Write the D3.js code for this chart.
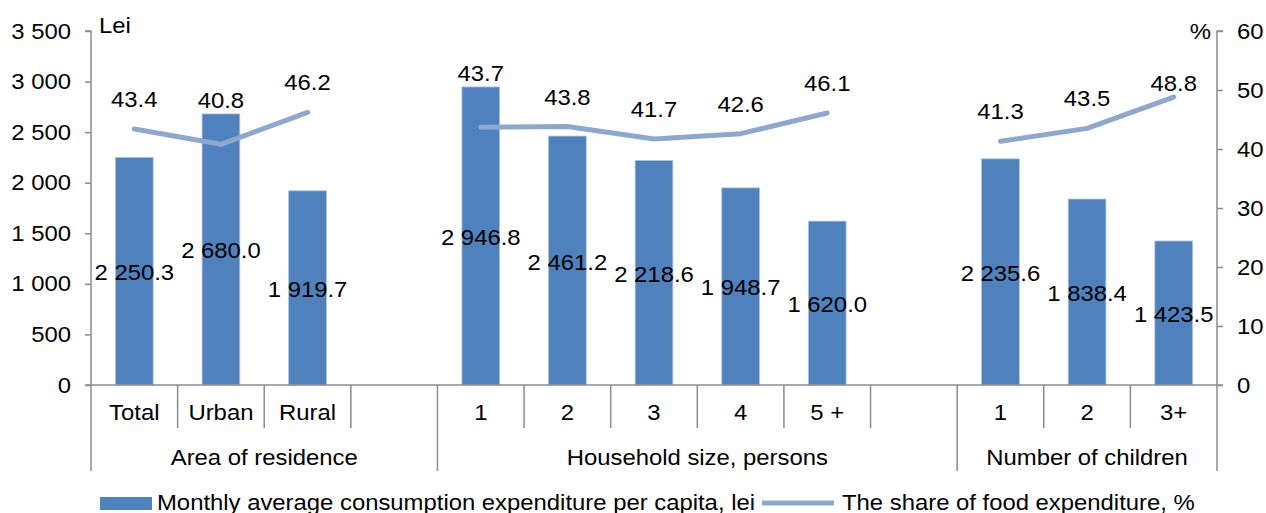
<!DOCTYPE html>
<html><head><meta charset="utf-8">
<script src="https://cdn.jsdelivr.net/npm/d3@7"></script>
<style>
html,body{margin:0;padding:0;background:#fff;}
svg text{font-family:"Liberation Sans",Arial,sans-serif;fill:#000;}
</style></head>
<body><svg id="c" width="1266" height="513"></svg>
<script>
const categories = ["Total","Urban","Rural","","1","2","3","4","5 +","","1","2","3+"];
const expenditure = [2250.3,2680.0,1919.7,null,2946.8,2461.2,2218.6,1948.7,1620.0,null,2235.6,1838.4,1423.5];
const foodShare = [43.4,40.8,46.2,null,43.7,43.8,41.7,42.6,46.1,null,41.3,43.5,48.8];
const groupNames = ["Area of residence","Household size, persons","Number of children"];
const groupSpans = [4,6,3];
const leftTicks = [0,500,1000,1500,2000,2500,3000,3500];
const rightTicks = [0,10,20,30,40,50,60];
const seriesNames = ["Monthly average consumption expenditure per capita, lei","The share of food expenditure, %"];

const svg = d3.select("#c");
const L = 91, R = 1217, T = 31, B = 385;
const fs = 22, KX = 1.085;
const axisCol = "#8c8c8c";
const barCol = "#4F81BD", lineCol = "#8EA7CF";

const x = d3.scaleBand().domain(d3.range(categories.length)).range([L,R]).padding(0);
const yL = d3.scaleLinear().domain([0,3500]).range([B,T]);
const yR = d3.scaleLinear().domain([0,60]).range([B,T]);
const fmt = v => d3.format(",.1f")(v).replace(/,/g," ");
const fmtTick = v => d3.format(",")(v).replace(/,/g," ");
const cx = i => x(i)+x.bandwidth()/2;

// bars
const bw = x.bandwidth()*0.435;
const barData = expenditure.map((v,i)=>({v,i})).filter(d=>d.v!=null);
svg.append("g").selectAll("rect").data(barData)
 .join("rect")
 .attr("x",d=>cx(d.i)-bw/2).attr("width",bw)
 .attr("y",d=>yL(d.v)).attr("height",d=>yL(0)-yL(d.v))
 .attr("fill",barCol).attr("stroke","#a9c0e0").attr("stroke-width",0.8);

// left axis
const gl = svg.append("g").attr("transform",`translate(${L},0)`)
 .call(d3.axisLeft(yL).tickValues(leftTicks).tickSize(6).tickPadding(14).tickFormat(fmtTick));
gl.select(".domain").attr("stroke",axisCol).attr("stroke-width",1.5).attr("d",`M-6,${T}H0V${B}`);
gl.selectAll(".tick line").attr("stroke",axisCol).attr("stroke-width",1.5);
gl.selectAll(".tick text").attr("font-size",fs).attr("font-family","Liberation Sans").attr("fill","#000");

// right axis
const gr = svg.append("g").attr("transform",`translate(${R},0)`)
 .call(d3.axisRight(yR).tickValues(rightTicks).tickSize(6).tickPadding(14));
gr.select(".domain").attr("stroke",axisCol).attr("stroke-width",1.5).attr("d",`M6,${T}H0V${B}`);
gr.selectAll(".tick line").attr("stroke",axisCol).attr("stroke-width",1.5);
gr.selectAll(".tick text").attr("font-size",fs).attr("font-family","Liberation Sans").attr("fill","#000");

// category axis
const gc = svg.append("g");
gc.append("line").attr("x1",L-6).attr("x2",R+6).attr("y1",B).attr("y2",B).attr("stroke",axisCol).attr("stroke-width",1.5);
const bounds = [0]; groupSpans.reduce((a,s)=>{bounds.push(a+s);return a+s;},0);
d3.range(categories.length+1).forEach(i=>{
  const xx = i<categories.length ? x(i) : R;
  const long = bounds.includes(i);
  gc.append("line").attr("x1",xx).attr("x2",xx).attr("y1",B).attr("y2",long?471:428)
    .attr("stroke",axisCol).attr("stroke-width",1.5);
});
gc.selectAll("text.cat").data(categories).join("text").attr("class","cat")
 .attr("x",(d,i)=>cx(i)).attr("y",420).attr("text-anchor","middle").attr("font-size",fs).text(d=>d);
groupNames.forEach((g,k)=>{
  const a = bounds[k], b = bounds[k+1];
  const xa = x(a), xb = b<categories.length? x(b) : R;
  gc.append("text").attr("x",(xa+xb)/2).attr("y",465).attr("text-anchor","middle").attr("font-size",fs).text(g);
});

// line
const line = d3.line().defined(d=>d.v!=null).x(d=>cx(d.i)).y(d=>yR(d.v));
const pts = foodShare.map((v,i)=>({v,i}));
svg.append("path").attr("d",line(pts)).attr("fill","none").attr("stroke",lineCol).attr("stroke-width",5).attr("stroke-linecap","round").attr("stroke-linejoin","round");

// line labels: above the point, kept clear of the bar top
const labelCenter = d => {
  if (d.i === categories.length-1) return yR(d.v)-14;
  const barTop = expenditure[d.i]!=null ? yL(expenditure[d.i]) : Infinity;
  return Math.min(yR(d.v)-30, barTop-14);
};
svg.append("g").selectAll("text").data(pts.filter(d=>d.v!=null)).join("text")
 .attr("x",d=>cx(d.i)).attr("y",d=>labelCenter(d)+8).attr("text-anchor","middle").attr("font-size",fs).text(d=>d.v.toFixed(1));

// bar labels
svg.append("g").selectAll("text").data(barData).join("text")
 .attr("x",d=>cx(d.i)).attr("y",d=>(yL(d.v)+yL(0))/2+9).attr("text-anchor","middle").attr("font-size",fs).text(d=>fmt(d.v));

// axis units
svg.append("text").attr("x",99).attr("y",33).attr("font-size",fs).text("Lei");
svg.append("text").attr("x",1211).attr("y",39).attr("text-anchor","end").attr("font-size",fs).text("%");

// legend
svg.append("rect").attr("x",100).attr("y",497).attr("width",52).attr("height",13).attr("fill",barCol);
svg.append("text").attr("x",157).attr("y",510).attr("font-size",fs).text(seriesNames[0]);
svg.append("line").attr("x1",762).attr("x2",834).attr("y1",503).attr("y2",503).attr("stroke",lineCol).attr("stroke-width",5);
svg.append("text").attr("x",842).attr("y",510).attr("font-size",fs).text(seriesNames[1]);

// widen glyphs horizontally to match the reference typeface
svg.selectAll("text").each(function(){
  const t = d3.select(this);
  const tx = +t.attr("x")||0, ty = +t.attr("y")||0;
  t.attr("x",0).attr("y",0).attr("transform",`translate(${tx},${ty}) scale(${KX},1)`);
});
</script></body></html>
